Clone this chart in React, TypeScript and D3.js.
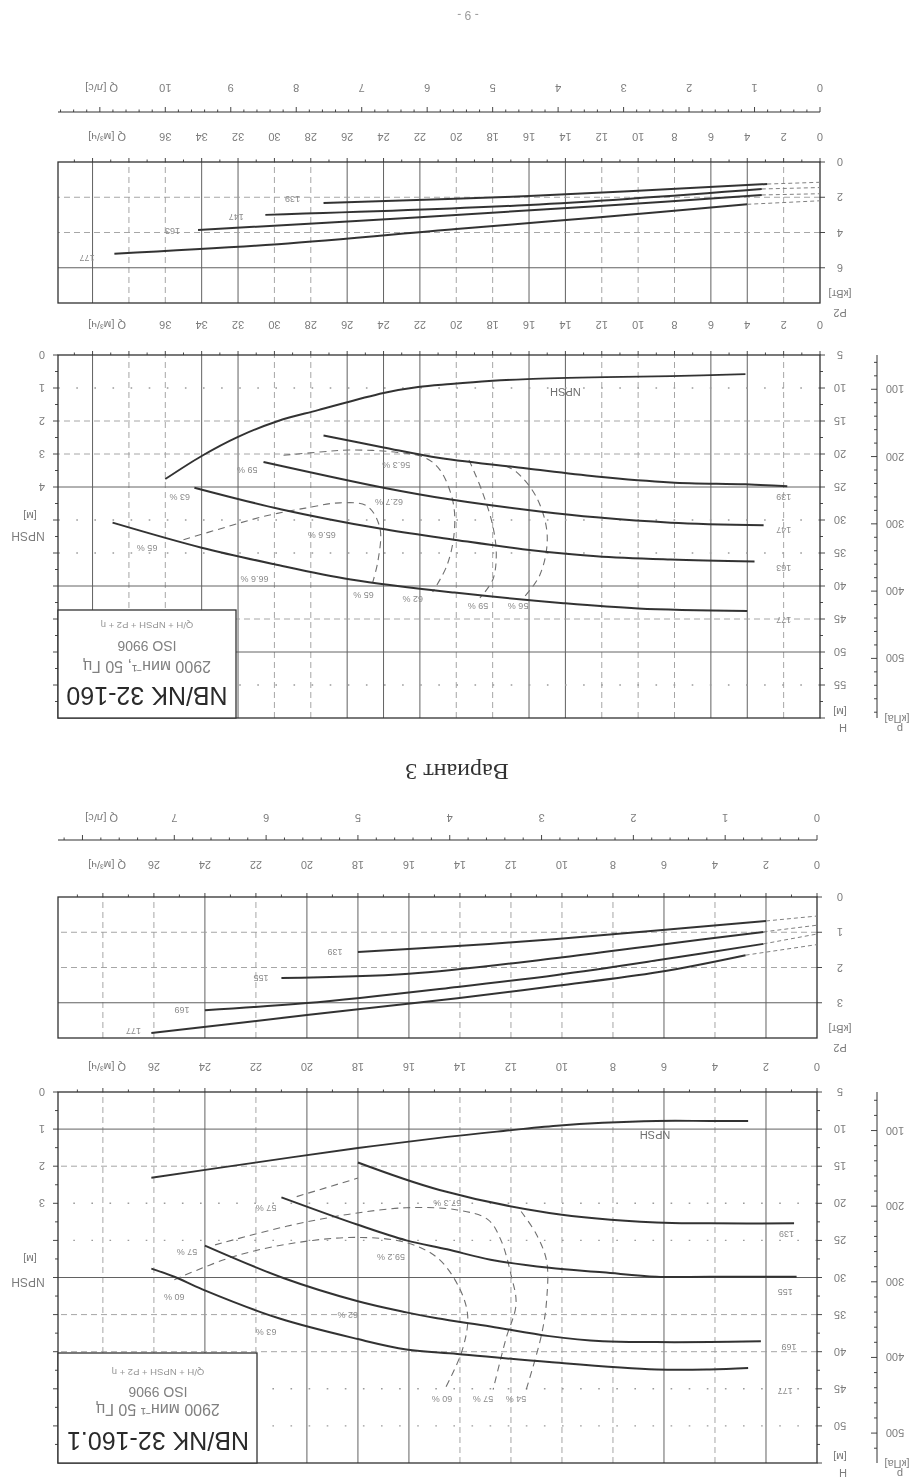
import * as d3 from "d3";

type Pt = [number, number];

const W = 921;
const HGT = 1484;
const FONT = "'Liberation Sans', Arial, Helvetica, sans-serif";
const INK = "#333";
const GRID = "#626262";
const FAINT = "#9c9c9c";
const LABEL = "#7c7c7c";

// ---------- shared ----------
const kpaTicks = [100, 200, 300, 400, 500];

// ---------- NB/NK 32-160 ----------
const qTicksA = [0, 2, 4, 6, 8, 10, 12, 14, 16, 18, 20, 22, 24, 26, 28, 30, 32, 34, 36];
const lsTicksA = [0, 1, 2, 3, 4, 5, 6, 7, 8, 9, 10];
const hTicksA = [5, 10, 15, 20, 25, 30, 35, 40, 45, 50, 55];
const npshTicksA = [0, 1, 2, 3, 4];
const p2TicksA = [0, 2, 4, 6];
const vSolidA = [4, 6, 14, 16, 22, 24, 26, 32, 34, 40];
const vDashA = [2, 8, 10, 12, 18, 20, 28, 30, 36, 38];
const hSolidA = [25, 40, 50];
const hDashA = [15, 20, 45];
const hDotA = [10, 30, 35, 55];
const p2SolidA = [6];
const p2DashA = [2, 4];

const impellersA = ["139", "147", "163", "177"];
const headA: Pt[][] = [
  [[27.3, 17.2], [24, 19.0], [20.9, 20.6], [16.1, 22.2], [12.3, 23.4], [8.2, 24.3], [4.1, 24.6], [1.8, 24.9]],
  [[30.6, 21.2], [24, 25.1], [20.3, 26.9], [15.4, 28.7], [12.3, 29.6], [8.2, 30.4], [3.1, 30.8]],
  [[34.4, 25.1], [29.6, 28.4], [24.2, 31.3], [20.3, 32.9], [16.1, 34.5], [12.3, 35.5], [8.2, 36.0], [3.6, 36.3]],
  [[38.9, 30.4], [34, 34.2], [30, 36.7], [25.8, 39], [20.1, 41], [14.1, 42.6], [10, 43.4], [4, 43.8]],
];
const headLabelA: Pt[] = [[2, 26.5], [2, 31.5], [2, 37.3], [2, 45.2]];
const powerA: Pt[][] = [
  [[27.3, 2.33], [16, 1.93], [2.9, 1.25]],
  [[30.5, 3.0], [16, 2.44], [3.2, 1.53]],
  [[34.2, 3.86], [22, 3.13], [12.1, 2.5], [3.2, 1.87]],
  [[38.8, 5.2], [29.8, 4.66], [20, 3.8], [12.1, 3.13], [4, 2.4]],
];
const powerTailA = [1.15, 1.45, 1.8, 2.2];
const powerLabelA: Pt[] = [[29, 2.1], [32.1, 3.1], [35.6, 3.9], [40.3, 5.45]];
const npshA: Pt[] = [
  [36, 3.76], [34, 3.06], [32, 2.48], [29.8, 2.0], [27.6, 1.67], [24, 1.15], [22.1, 0.97],
  [20.3, 0.88], [18.2, 0.79], [16.1, 0.73], [11.8, 0.67], [8.2, 0.64], [4.1, 0.58],
];
const npshLabelA: Pt = [14, 1.12];
const effA: Pt[][] = [
  [[35.0, 33.0], [32.7, 31.1], [30.5, 29.4], [28.3, 28.2], [26.4, 27.4], [24.9, 27.9], [24.2, 31.2], [24.3, 36.1], [24.6, 39.5]],
  [[29.5, 20.2], [27.5, 19.7], [25.9, 19.4], [23.4, 19.7], [21.7, 20.6], [20.9, 22.4], [20.2, 27.0], [20.1, 31.5], [20.5, 36.8], [21.3, 40.9]],
  [[19.3, 20.9], [18.6, 25.5], [18.0, 30.8], [17.8, 35.3], [18.0, 39.1], [18.7, 41.8]],
  [[17.3, 21.8], [16.7, 22.7], [15.6, 26.5], [15.0, 32.3], [15.4, 38.3], [16.4, 42.1]],
];
const effTextA = ["65 %", "63 %", "59 %", "56.3 %", "62.7 %", "65.6 %", "66.6 %", "65 %", "62 %", "59 %", "56 %"];
const effPosA: Pt[] = [
  [37, 34.2], [35.2, 26.5], [31.5, 22.4], [23.3, 21.6], [23.7, 27.2], [27.4, 32.2],
  [31.1, 39], [25.1, 41.4], [22.4, 42], [18.8, 43.1], [16.6, 43.1],
];

// ---------- NB/NK 32-160.1 ----------
const qTicksB = [0, 2, 4, 6, 8, 10, 12, 14, 16, 18, 20, 22, 24, 26];
const lsTicksB = [0, 1, 2, 3, 4, 5, 6, 7];
const hTicksB = [5, 10, 15, 20, 25, 30, 35, 40, 45, 50];
const npshTicksB = [0, 1, 2, 3];
const p2TicksB = [0, 1, 2, 3];
const vSolidB = [2, 6, 16, 18, 20, 24];
const vDashB = [4, 8, 10, 12, 14, 22, 26, 28];
const hSolidB = [10, 30];
const hDashB = [15, 35, 40];
const hDotB = [20, 25, 45, 50];
const p2SolidB = [3];
const p2DashB = [1, 2];

const impellersB = ["139", "155", "169", "177"];
const headB: Pt[][] = [
  [[18, 14.5], [14.8, 18.2], [10.5, 21.3], [6.3, 22.6], [4.2, 22.7], [0.9, 22.7]],
  [[21, 19.2], [18, 22.9], [16.1, 25.0], [14.5, 26.2], [12.8, 27.6], [10.5, 28.7], [8.4, 29.3], [6.3, 29.9], [4.2, 29.9], [0.8, 29.9]],
  [[24, 25.7], [20.9, 30.1], [18, 33.2], [16.1, 34.7], [14.9, 35.5], [12.8, 36.6], [10.5, 37.9], [8.4, 38.6], [6.3, 38.7], [4.2, 38.7], [2.2, 38.6]],
  [[26.1, 28.8], [25.2, 29.9], [24.1, 31.6], [21.1, 35.5], [18, 38.3], [16.1, 39.7], [14.1, 40.3], [10.5, 41.4], [6.3, 42.4], [4.2, 42.4], [2.7, 42.2]],
];
const headLabelB: Pt[] = [[1.2, 24.1], [1.25, 32], [1.1, 39.4], [1.25, 45.3]];
const powerB: Pt[][] = [
  [[18, 1.56], [14.1, 1.39], [10.2, 1.19], [2, 0.68]],
  [[21, 2.3], [16, 2.18], [10.2, 1.73], [6.2, 1.36], [2.1, 0.99]],
  [[24, 3.21], [20, 3.01], [14.1, 2.55], [10.2, 2.21], [6.2, 1.79], [2.1, 1.33]],
  [[26.1, 3.86], [20, 3.35], [14.1, 2.87], [10.2, 2.52], [6.2, 2.13], [2.8, 1.65]],
];
const powerTailB = [0.54, 0.8, 1.05, 1.35];
const powerLabelB: Pt[] = [[18.9, 1.56], [21.8, 2.3], [24.9, 3.2], [26.8, 3.8]];
const npshB: Pt[] = [
  [26.1, 2.31], [22.1, 1.91], [18, 1.51], [14.5, 1.21], [12.3, 1.05], [10.2, 0.91],
  [8.4, 0.83], [6.3, 0.78], [4.2, 0.78], [2.7, 0.78],
];
const npshLabelB: Pt = [6.35, 1.16];
const effB: Pt[][] = [
  [[25.2, 30.3], [22.9, 27.2], [20.4, 25.3], [18.0, 24.6], [16.1, 25.3], [14.9, 27.3], [14.1, 30.9], [13.7, 35.0], [13.9, 39.7], [14.6, 45.1]],
  [[23.6, 25.6], [20.8, 23.1], [18.4, 21.5], [16.1, 20.6], [14.1, 20.9], [12.9, 22.2], [12.4, 24.9], [12.0, 29.6], [11.8, 33.6], [12.2, 38.3], [12.7, 45.1]],
  [[20.4, 19.1], [18.0, 16.6]],
  [[11.6, 21.1], [11.0, 24.2], [10.6, 27.8], [10.6, 33.0], [10.8, 37.7], [11.4, 45.1]],
];
const effTextB = ["60 %", "57 %", "57 %", "57.3 %", "59.2 %", "62 %", "63 %", "60 %", "57 %", "54 %"];
const effPosB: Pt[] = [
  [25.2, 32.6], [24.7, 26.6], [21.6, 20.6], [14.5, 19.9], [16.7, 27.3], [18.4, 35.0],
  [21.6, 37.4], [14.7, 46.4], [13.1, 46.4], [11.8, 46.4],
];

// upright page coordinates (the whole sheet is shown turned upside down)
const layoutA = {
  u0: 101, u1: 863, qMax: 41.9,
  lsLabelV: 1400, lsAxisV: 1372, qLowV: 1351,
  p2Bottom: 1322, p2Top: 1181, p2Max: 8,
  qMidV: 1163, hBottom: 1129, hTop: 766, hMax: 60,
  box: [685, 766, 863, 874], titleU: 774, textV: [797, 823, 843, 862],
  npshUnitV: [952, 972],
};
const layoutB = {
  u0: 104, u1: 863, qMax: 29.76,
  lsLabelV: 670, lsAxisV: 644, qLowV: 623,
  p2Bottom: 587, p2Top: 446, p2Max: 4,
  qMidV: 421, hBottom: 392, hTop: 21, hMax: 55,
  box: [664, 21, 863, 131], titleU: 763, textV: [52, 80, 97, 115],
  npshUnitV: [206, 229],
};

type Layout = typeof layoutA;
interface ChartData {
  qTicks: number[]; lsTicks: number[]; hTicks: number[]; npshTicks: number[]; p2Ticks: number[];
  vSolid: number[]; vDash: number[]; hSolid: number[]; hDash: number[]; hDot: number[];
  p2Solid: number[]; p2Dash: number[];
  impellers: string[]; head: Pt[][]; headLabel: Pt[]; power: Pt[][]; powerTail: number[];
  powerLabel: Pt[]; npsh: Pt[]; npshLabel: Pt; eff: Pt[][]; effText: string[]; effPos: Pt[];
  title: string[];
}

function Txt(props: any) {
  const { size = 11, fill = LABEL, anchor = "middle", children, ...rest } = props;
  return (
    <text fontFamily={FONT} fontSize={size} fill={fill} textAnchor={anchor} {...rest}>
      {children}
    </text>
  );
}

function PumpChart({ L, D }: { L: Layout; D: ChartData }) {
  const x = d3.scaleLinear().domain([0, L.qMax]).range([L.u0, L.u1]);
  const yH = d3.scaleLinear().domain([5, L.hMax]).range([L.hBottom, L.hTop]);
  const yP = d3.scaleLinear().domain([0, L.p2Max]).range([L.p2Bottom, L.p2Top]);
  const yN = (n: number) => yH(5 + 5 * n);
  const yK = (k: number) => yH(k / 9.81);
  const smooth = d3.curveCatmullRom.alpha(0.5);
  const headPath = d3.line<Pt>().x((d) => x(d[0])).y((d) => yH(d[1])).curve(smooth);
  const powerPath = d3.line<Pt>().x((d) => x(d[0])).y((d) => yP(d[1])).curve(smooth);
  const npshPath = d3.line<Pt>().x((d) => x(d[0])).y((d) => yN(d[1])).curve(smooth);

  const lsMax = L.qMax / 3.6;
  const minorLs = d3.range(0, lsMax, 0.2);
  const minorQ = d3.range(0, L.qMax, 1);
  const minorH = d3.range(5, L.hMax + 0.01, 2.5);
  const minorN = d3.range(0, (L.hMax - 5) / 5, 0.5);
  const minorK = d3.range(60, L.hMax * 9.81, 20);
  const pU = 44;
  const labU = 81;

  const panels: [number, number][] = [
    [L.hTop, L.hBottom],
    [L.p2Top, L.p2Bottom],
  ];

  return (
    <g>
      {/* vertical grid */}
      {panels.map(([a, b], k) => (
        <g key={"vg" + k}>
          {D.vDash.map((q) => (
            <line key={q} x1={x(q)} x2={x(q)} y1={a} y2={b} stroke={FAINT} strokeWidth={0.9} strokeDasharray="6 4" />
          ))}
          {D.vSolid.map((q) => (
            <line key={q} x1={x(q)} x2={x(q)} y1={a} y2={b} stroke={GRID} strokeWidth={1} />
          ))}
        </g>
      ))}

      {/* horizontal grid, H panel */}
      {D.hDot.map((h) => (
        <line key={"hd" + h} x1={L.u0} x2={L.u1} y1={yH(h)} y2={yH(h)} stroke={FAINT} strokeWidth={1.4} strokeDasharray="1.6 16.5" />
      ))}
      {D.hDash.map((h) => (
        <line key={"hs" + h} x1={L.u0} x2={L.u1} y1={yH(h)} y2={yH(h)} stroke={FAINT} strokeWidth={0.9} strokeDasharray="6 4" />
      ))}
      {D.hSolid.map((h) => (
        <line key={"hl" + h} x1={L.u0} x2={L.u1} y1={yH(h)} y2={yH(h)} stroke={GRID} strokeWidth={1} />
      ))}
      {/* horizontal grid, P2 panel */}
      {D.p2Dash.map((v) => (
        <line key={"pd" + v} x1={L.u0} x2={L.u1} y1={yP(v)} y2={yP(v)} stroke={FAINT} strokeWidth={0.9} strokeDasharray="6 4" />
      ))}
      {D.p2Solid.map((v) => (
        <line key={"ps" + v} x1={L.u0} x2={L.u1} y1={yP(v)} y2={yP(v)} stroke={GRID} strokeWidth={1} />
      ))}

      {/* frames */}
      <rect x={L.u0} y={L.hTop} width={L.u1 - L.u0} height={L.hBottom - L.hTop} fill="none" stroke={INK} strokeWidth={1.3} />
      <rect x={L.u0} y={L.p2Top} width={L.u1 - L.u0} height={L.p2Bottom - L.p2Top} fill="none" stroke={INK} strokeWidth={1.3} />
      <line x1={L.u0} x2={L.u1} y1={L.lsAxisV} y2={L.lsAxisV} stroke={INK} strokeWidth={1.1} />

      {/* Q ticks */}
      {minorQ.map((q) => {
        const big = q % 2 === 0;
        return (
          <g key={"qt" + q}>
            <line x1={x(q)} x2={x(q)} y1={L.hBottom} y2={L.hBottom + (big ? 4 : 2.5)} stroke={INK} strokeWidth={0.9} />
            <line x1={x(q)} x2={x(q)} y1={L.p2Bottom} y2={L.p2Bottom + (big ? 4 : 2.5)} stroke={INK} strokeWidth={0.9} />
          </g>
        );
      })}
      {minorLs.map((s, i) => (
        <line key={"ls" + i} x1={x(s * 3.6)} x2={x(s * 3.6)} y1={L.lsAxisV} y2={L.lsAxisV + (i % 5 === 0 ? 5 : 2.5)} stroke={INK} strokeWidth={0.9} />
      ))}

      {/* Q labels */}
      {D.qTicks.map((q) => (
        <g key={"ql" + q}>
          <Txt x={x(q)} y={L.qLowV}>{q}</Txt>
          <Txt x={x(q)} y={L.qMidV}>{q}</Txt>
        </g>
      ))}
      {D.lsTicks.map((s) => (
        <Txt key={"sl" + s} x={x(s * 3.6)} y={L.lsLabelV}>{s}</Txt>
      ))}
      <Txt x={795} y={L.qLowV} anchor="start">Q [м³/ч]</Txt>
      <Txt x={795} y={L.qMidV} anchor="start">Q [м³/ч]</Txt>
      <Txt x={803} y={L.lsLabelV} anchor="start">Q [л/с]</Txt>

      {/* H axis (left) */}
      {minorH.map((h) => (
        <line key={"hm" + h} x1={L.u0} x2={L.u0 - (h % 5 === 0 ? 5 : 3)} y1={yH(h)} y2={yH(h)} stroke={INK} strokeWidth={0.9} />
      ))}
      {D.hTicks.map((h) => (
        <Txt key={"hl" + h} x={labU} y={yH(h) + 4}>{h}</Txt>
      ))}
      <Txt x={labU} y={yH(L.hMax) + 10}>[м]</Txt>
      <Txt x={labU - 3} y={yH(L.hMax) - 6}>H</Txt>

      {/* P2 axis */}
      {D.p2Ticks.map((v) => (
        <g key={"p2" + v}>
          <line x1={L.u0} x2={L.u0 - 5} y1={yP(v)} y2={yP(v)} stroke={INK} strokeWidth={0.9} />
          <Txt x={labU} y={yP(v) + 4}>{v}</Txt>
        </g>
      ))}
      <Txt x={labU} y={L.p2Top + 13}>[кВт]</Txt>
      <Txt x={labU} y={L.p2Top - 6}>P2</Txt>

      {/* p axis */}
      <line x1={pU} x2={pU} y1={L.hTop} y2={L.hBottom} stroke={INK} strokeWidth={1} />
      {minorK.map((k) => (
        <line key={"kt" + k} x1={pU} x2={pU + (k % 100 === 0 ? 6 : 3)} y1={yK(k)} y2={yK(k)} stroke={INK} strokeWidth={0.9} />
      ))}
      {kpaTicks.map((k) => (
        <Txt key={"kl" + k} x={26} y={yK(k) + 4}>{k}</Txt>
      ))}
      <Txt x={24} y={yH(L.hMax) + 3}>[кПа]</Txt>
      <Txt x={21} y={yH(L.hMax) - 7}>p</Txt>

      {/* NPSH axis (right) */}
      {minorN.map((n) => (
        <line key={"nt" + n} x1={L.u1} x2={L.u1 + (n % 1 === 0 ? 5 : 3)} y1={yN(n)} y2={yN(n)} stroke={INK} strokeWidth={0.9} />
      ))}
      {D.npshTicks.map((n) => (
        <Txt key={"nl" + n} x={879} y={yN(n) + 4}>{n}</Txt>
      ))}
      <Txt x={893} y={L.npshUnitV[0]} size={12}>NPSH</Txt>
      <Txt x={891} y={L.npshUnitV[1]}>[м]</Txt>

      {/* efficiency iso lines */}
      {D.eff.map((seg, i) => (
        <path key={"ef" + i} d={headPath(seg) || ""} fill="none" stroke="#6f6f6f" strokeWidth={1.1} strokeDasharray="7 5" />
      ))}
      {D.effText.map((t, i) => (
        <Txt key={"et" + i} x={x(D.effPos[i][0])} y={yH(D.effPos[i][1]) + 3} size={9} fill="#8a8a8a">{t}</Txt>
      ))}

      {/* NPSH curve */}
      <path d={npshPath(D.npsh) || ""} fill="none" stroke={INK} strokeWidth={1.9} />
      <Txt x={x(D.npshLabel[0])} y={yN(D.npshLabel[1]) + 4} size={11} fill="#6e6e6e">NPSH</Txt>

      {/* head curves */}
      {D.head.map((s, i) => (
        <g key={"hc" + i}>
          <path d={headPath(s) || ""} fill="none" stroke={INK} strokeWidth={2} />
          <Txt x={x(D.headLabel[i][0])} y={yH(D.headLabel[i][1]) + 3} size={9} fill="#8a8a8a">{D.impellers[i]}</Txt>
        </g>
      ))}

      {/* power curves */}
      {D.power.map((s, i) => {
        const last = s[s.length - 1];
        return (
          <g key={"pc" + i}>
            <path d={powerPath(s) || ""} fill="none" stroke={INK} strokeWidth={2} />
            <path d={powerPath([last, [0, D.powerTail[i]]]) || ""} fill="none" stroke="#808080" strokeWidth={1} strokeDasharray="4 3" />
            <Txt x={x(D.powerLabel[i][0])} y={yP(D.powerLabel[i][1]) + 3} size={9} fill="#8a8a8a">{D.impellers[i]}</Txt>
          </g>
        );
      })}

      {/* legend box */}
      <rect x={L.box[0]} y={L.box[1]} width={L.box[2] - L.box[0]} height={L.box[3] - L.box[1]} fill="#fff" stroke={INK} strokeWidth={1.3} />
      <Txt x={L.titleU} y={L.textV[0]} size={25} fill="#2a2a2a">{D.title[0]}</Txt>
      <Txt x={L.titleU} y={L.textV[1]} size={16} fill="#808080">{D.title[1]}</Txt>
      <Txt x={L.titleU} y={L.textV[2]} size={14} fill="#808080">{D.title[2]}</Txt>
      <Txt x={L.titleU} y={L.textV[3]} size={9.5} fill="#959595">{D.title[3]}</Txt>
    </g>
  );
}

const dataA: ChartData = {
  qTicks: qTicksA, lsTicks: lsTicksA, hTicks: hTicksA, npshTicks: npshTicksA, p2Ticks: p2TicksA,
  vSolid: vSolidA, vDash: vDashA, hSolid: hSolidA, hDash: hDashA, hDot: hDotA,
  p2Solid: p2SolidA, p2Dash: p2DashA,
  impellers: impellersA, head: headA, headLabel: headLabelA, power: powerA, powerTail: powerTailA,
  powerLabel: powerLabelA, npsh: npshA, npshLabel: npshLabelA, eff: effA, effText: effTextA, effPos: effPosA,
  title: ["NB/NK 32-160", "2900 мин⁻¹, 50 Гц", "ISO 9906", "Q/H + NPSH + P2 + η"],
};
const dataB: ChartData = {
  qTicks: qTicksB, lsTicks: lsTicksB, hTicks: hTicksB, npshTicks: npshTicksB, p2Ticks: p2TicksB,
  vSolid: vSolidB, vDash: vDashB, hSolid: hSolidB, hDash: hDashB, hDot: hDotB,
  p2Solid: p2SolidB, p2Dash: p2DashB,
  impellers: impellersB, head: headB, headLabel: headLabelB, power: powerB, powerTail: powerTailB,
  powerLabel: powerLabelB, npsh: npshB, npshLabel: npshLabelB, eff: effB, effText: effTextB, effPos: effPosB,
  title: ["NB/NK 32-160.1", "2900 мин⁻¹    50 Гц", "ISO 9906", "Q/H + NPSH + P2 + η"],
};

export default function App() {
  return (
    <svg
      width={W}
      height={HGT}
      viewBox={`0 0 ${W} ${HGT}`}
      style={{ position: "absolute", left: 0, top: 0, display: "block", background: "#fff" }}
    >
      <defs>
        <filter id="scan">
          <feGaussianBlur stdDeviation="0.35" />
        </filter>
      </defs>
      <rect width={W} height={HGT} fill="#fff" />
      {/* the scanned sheet is upside down */}
      <g transform={`rotate(180 ${W / 2} ${HGT / 2})`} filter="url(#scan)">
        <PumpChart L={layoutB} D={dataB} />
        <text x={464} y={720} fontFamily="'Liberation Serif', 'DejaVu Serif', serif" fontSize={24} fill="#333" textAnchor="middle">
          Вариант 3
        </text>
        <PumpChart L={layoutA} D={dataA} />
        <Txt x={453} y={1473} size={12} fill="#999">- 9 -</Txt>
      </g>
    </svg>
  );
}
